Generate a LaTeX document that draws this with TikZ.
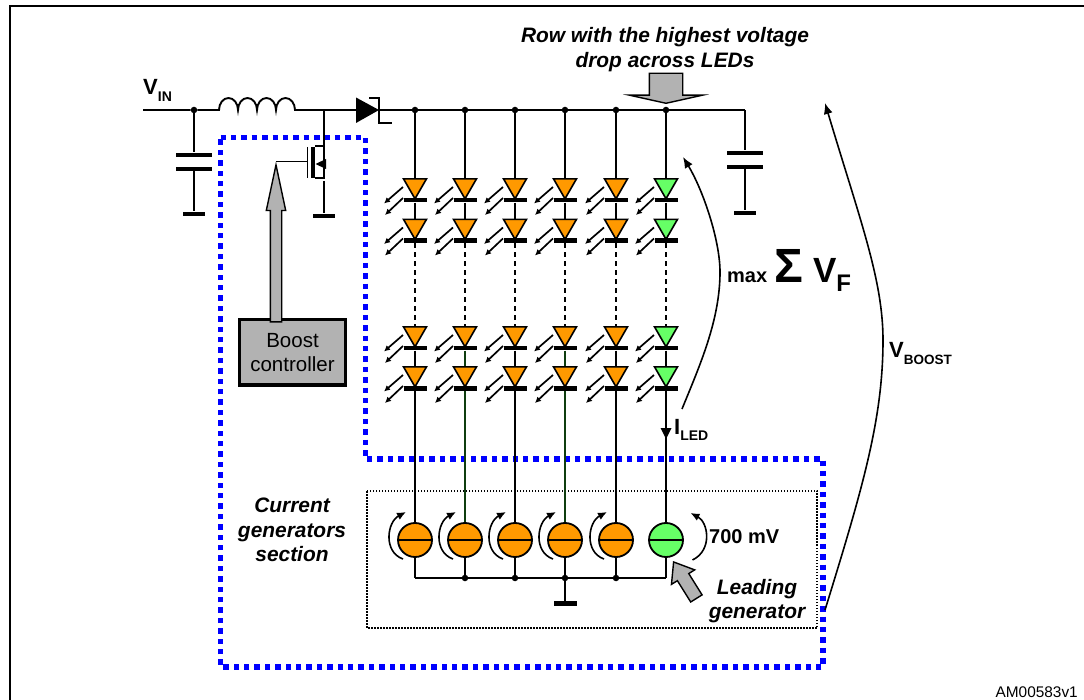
\documentclass[tikz,border=0pt]{standalone}
\usepackage{fontspec}
\setmainfont{Liberation Sans}
\usepackage{tikz}
\usetikzlibrary{shapes.geometric,shapes.arrows,arrows.meta}
\definecolor{ledorange}{HTML}{FF9900}
\definecolor{ledgreen}{HTML}{66FF66}
\definecolor{wiregreen}{HTML}{0F3D0F}
\definecolor{blockgrey}{HTML}{B2B2B2}
\newcommand{\fsz}[1]{\fontsize{#1}{#1}\selectfont}
\newcommand{\lowtxt}[2]{\raisebox{-0.28em}{\fsz{#1}#2}}

\begin{document}
\begin{tikzpicture}[x=1pt,y=-1pt,
  wire/.style={line width=1.9pt},
  junc/.style={circle,fill=black,inner sep=0pt,minimum size=6.5pt},
  ledtri/.style={regular polygon,regular polygon sides=3,shape border rotate=180,draw,line width=1.6pt,inner sep=0pt,minimum size=26.5pt},
  bar/.style={rectangle,fill=black,inner sep=0pt,minimum width=#1,minimum height=4.6pt},
  ray/.style={line width=1.7pt,-{Latex[length=6pt,width=6pt]}},
  gen/.style={circle,draw,line width=1.8pt,inner sep=0pt,minimum size=34pt},
  swing/.style={line width=1.6pt,-{Latex[length=9pt,width=8pt]}},
  span/.style={line width=1.6pt,-{Latex[length=11pt,width=9pt]}},
  block/.style={single arrow,draw,fill=blockgrey,line width=1.4pt,inner sep=0pt},
  lab/.style={font=\fontsize{20.9}{24.5}\selectfont\bfseries\itshape,align=center,inner sep=0pt}]
  \useasboundingbox (0,0) rectangle (1084,700);

  % frame
  \draw[line width=2.4pt] (10,700) -- (10,6) -- (1084,6);

  % sections
  \draw[blue,line width=5.4pt,dash pattern=on 5.4pt off 5pt] (220.5,137.5) -- (365.5,137.5) -- (365.5,459) -- (823,459) -- (823,667) -- (220.5,667) -- cycle;
  \draw[line width=1.5pt,dash pattern=on 1.5pt off 1.5pt] (367,491) rectangle (817,628);

  % input side
  \coordinate (vin) at (143,110);
  \node[junc] (vinjunc) at (194,110) {};
  \coordinate (lstart) at (219,110);
  \coordinate (drain) at (324,110);
  \draw[wire] (vin) -- (vinjunc) -- (lstart)
    arc[x radius=9.5pt,y radius=12pt,start angle=180,end angle=0]
    arc[x radius=9.5pt,y radius=12pt,start angle=180,end angle=0]
    arc[x radius=9.5pt,y radius=12pt,start angle=180,end angle=0]
    arc[x radius=9.5pt,y radius=12pt,start angle=180,end angle=0]
    -- (drain) -- (356,110);
  \node[font=\fsz{22}\bfseries,anchor=base west,inner sep=0pt] (vinlab) at (143,95) {V\lowtxt{14}{IN}};
  \node[bar=36pt] (cin1) at (194,155) {};
  \node[bar=36pt] (cin2) at (194,169) {};
  \node[bar=22pt] (cingnd) at (194,214) {};
  \draw[wire] (vinjunc) -- (cin1);
  \draw[wire] (cin2) -- (cingnd);

  % diode
  \fill (356,97.5) -- (379,110) -- (356,123) -- cycle;
  \draw[wire] (369,98) -- (379,98) -- (379,123) -- (392,123);
  \coordinate (railend) at (745,110);
  \draw[wire] (379,110) -- (railend);
  \node[bar=36pt] (cout1) at (745,153) {};
  \node[bar=36pt] (cout2) at (745,167) {};
  \node[bar=22pt] (coutgnd) at (745,213) {};
  \draw[wire] (railend) -- (cout1);
  \draw[wire] (cout2) -- (coutgnd);

  % switch
  \coordinate (gate) at (276,161.5);
  \draw[wire] (gate) -- (307.5,161.5);
  \draw[line width=1.4pt] (307.5,147) -- (307.5,178);
  \draw[line width=4.5pt] (313,147) -- (313,178.5);
  \draw[wire] (drain) -- (324,146) -- (315,146);
  \draw[line width=1.2pt] (324,146) -- (324,178) -- (315,178);
  \fill (315.5,164) -- (326,159) -- (326,169) -- cycle;
  \node[bar=22pt] (fetgnd) at (324,216) {};
  \draw[wire] (324,181) -- (fetgnd);

  % controller
  \node[draw,fill=blockgrey,line width=3pt,minimum width=106pt,minimum height=65pt,inner sep=0pt,align=center,font=\fontsize{20.5}{24}\selectfont] (boost) at (292.5,352.5) {Boost\\controller};
  \node[block,rotate=90,anchor=tip,inner ysep=5pt,minimum height=157pt,minimum width=18pt,single arrow head extend=4pt,single arrow tip angle=24] (boostarrow) at (gate) {};

  % LED strings
  \foreach \x/\ledcol/\wirecol [count=\i] in {415/ledorange/black,465/ledorange/wiregreen,515/ledorange/black,565/ledorange/wiregreen,616/ledorange/black,666/ledgreen/black}{
    \node[junc] (rail\i) at (\x,110) {};
    \foreach \y/\r in {185.5/a,226/b,333.5/c,373.5/d}{
      \node[ledtri,fill=\ledcol] (led\r\i) at (\x,\y) {};
      \node[bar=23pt] (bar\r\i) at (\x,\y+14.7) {};
      \draw[ray] ([shift={(-12,1.5)}]led\r\i.center) -- ([shift={(-31,18)}]led\r\i.center);
      \draw[ray] ([shift={(-12,12.5)}]led\r\i.center) -- ([shift={(-30,29.5)}]led\r\i.center);
    }
    \node[gen,fill=\ledcol] (gen\i) at (\x,540) {};
    \coordinate (bus\i) at (\x,578);
    \draw[wire] (rail\i) -- (leda\i);
    \draw[wire] (bara\i) -- (ledb\i);
    \draw[wire,dashed,dash pattern=on 5pt off 4pt] (barb\i) -- (ledc\i);
    \draw[wire,draw=\wirecol] (barc\i) -- (ledd\i);
    \draw[wire,draw=\wirecol] (bard\i) -- (gen\i);
    \draw[wire] (gen\i.west) -- (gen\i.east);
    \draw[wire] (gen\i) -- (bus\i);
  }
  \draw[wire] (bus1) -- (bus6);
  \foreach \i in {2,3,4,5}{
    \node[junc] at (bus\i) {};
  }
  \node[bar=23pt] (gengnd) at (565,603.5) {};
  \draw[wire] (bus4) -- (gengnd);

  % voltage across the generators
  \foreach \i in {1,2,3,4,5}{
    \draw[swing] ([shift={(-12,19)}]gen\i.center) .. controls ([shift={(-32,12)}]gen\i.center) and ([shift={(-28,-18)}]gen\i.center) .. ([shift={(-9,-28)}]gen\i.center);
  }
  \draw[swing] ([shift={(26.5,20)}]gen6.center) .. controls ([shift={(47,10)}]gen6.center) and ([shift={(42,-18)}]gen6.center) .. ([shift={(24.5,-27)}]gen6.center);
  \node[font=\fsz{20}\bfseries,anchor=base west,inner sep=0pt] (mvlab) at (709,543) {700 mV};

  % current arrow
  \coordinate (iledtip) at (666,439);
  \fill (iledtip) -- (660.5,428) -- (671.5,428) -- cycle;
  \node[font=\fsz{22}\bfseries,anchor=base west,inner sep=0pt] (iledlab) at (674,434) {I\lowtxt{14}{LED}};

  % spans
  \coordinate (maxlow) at (682,409);
  \coordinate (maxmid) at (720,272);
  \coordinate (maxtip) at (683,157);
  \coordinate (boostlow) at (825,610);
  \coordinate (boostmid) at (883,340);
  \coordinate (boosttip) at (825,103);
  \draw[span] (maxlow) .. controls (700,365) and (720,320) .. (maxmid) .. controls (720,240) and (703,190) .. (maxtip);
  \draw[span] (boostlow) .. controls (862,490) and (883,420) .. (boostmid) .. controls (883,280) and (860,220) .. (boosttip);
  \node[font=\bfseries,anchor=base west,inner sep=0pt] (maxlab) at (727,283) {\fsz{20}max\hspace{7pt}{\fsz{48}Σ}\hspace{10pt}{\fsz{35}V}\raisebox{-9pt}{\fsz{24}F}};
  \node[font=\fsz{22}\bfseries,anchor=base west,inner sep=0pt] (vboostlab) at (889,358) {V\lowtxt{13.5}{BOOST}};

  % notes
  \node[lab] (rowlab) at (665,49.5) {Row with the highest voltage\\[1pt]drop across LEDs};
  \node[block,rotate=-90,anchor=tip,inner ysep=16pt,minimum height=30pt,minimum width=72pt,single arrow head extend=20pt,single arrow tip angle=155] (rowarrow) at (666,104) {};
  \node[lab] (seclab) at (292,530) {Current\\generators\\section};
  \node[lab] (leadlab) at (757,601) {Leading\\generator};
  \node[block,rotate=122,anchor=tip,inner ysep=6pt,minimum height=43pt,minimum width=26pt,single arrow head extend=7pt,single arrow tip angle=75] (leadarrow) at (673,561) {};
  \node[font=\fsz{15.4},anchor=base east,inner sep=0pt] (reflab) at (1078,697) {AM00583v1};
\end{tikzpicture}
\end{document}
